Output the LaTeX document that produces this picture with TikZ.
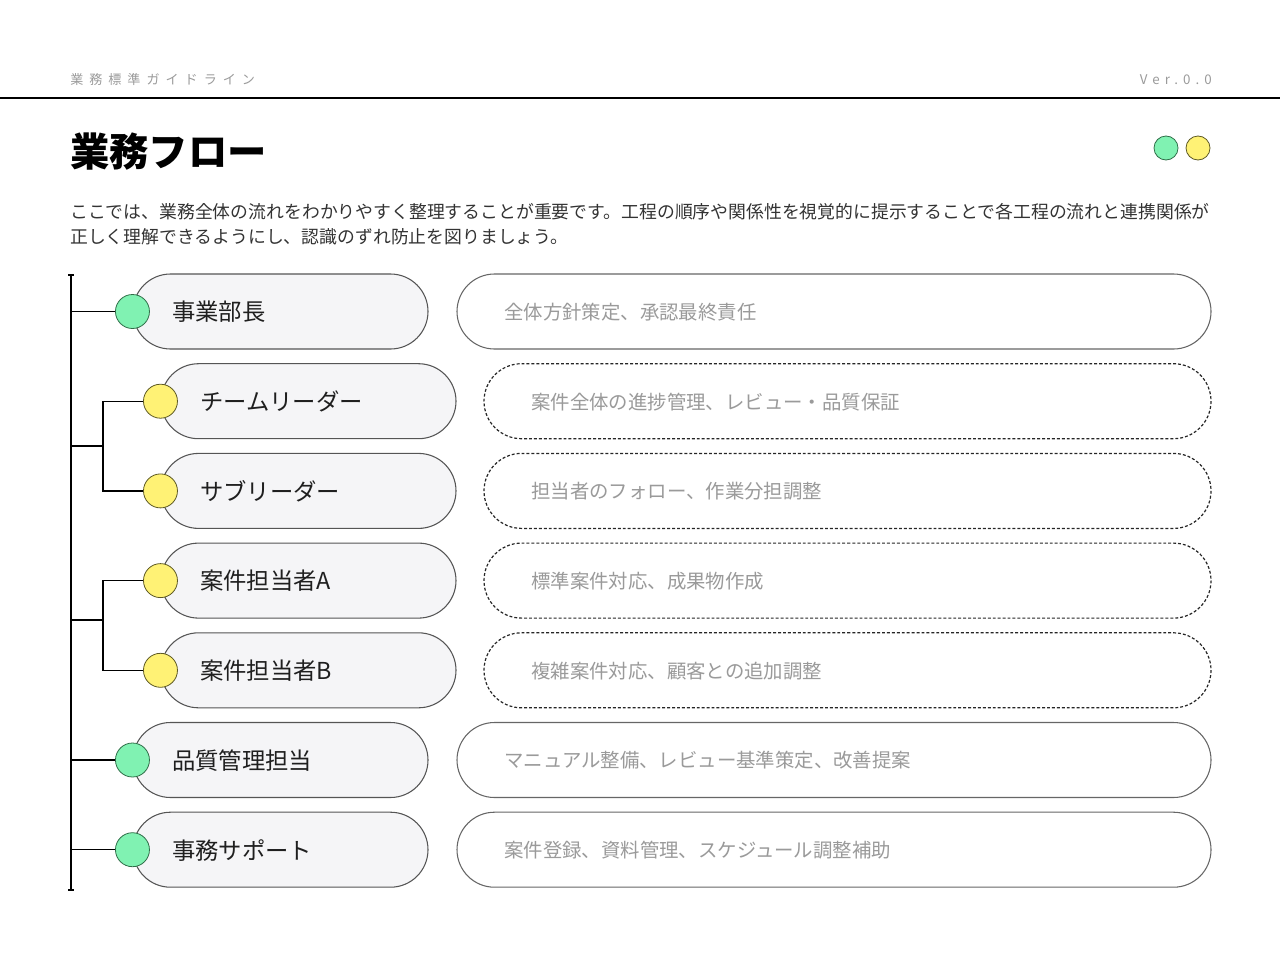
\documentclass[tikz,border=0pt]{standalone}
\usepackage{fontspec}
\setmainfont{Noto Sans CJK JP}
\usetikzlibrary{shapes.misc}
\definecolor{mint}{HTML}{80F2B2}
\definecolor{mintdark}{HTML}{2F6E48}
\definecolor{lemon}{HTML}{FFF275}
\definecolor{lemondark}{HTML}{5E5A24}
\definecolor{pillfill}{HTML}{F5F5F7}
\definecolor{pillline}{HTML}{555555}
\definecolor{softgray}{HTML}{9A9A9A}
\definecolor{bodytext}{HTML}{333333}
\tikzset{
  leftpill/.style={rounded rectangle, draw=pillline, fill=pillfill, line width=0.8pt,
    minimum width=221.25pt, minimum height=56.25pt, inner sep=0pt},
  solidpill/.style={rounded rectangle, draw=pillline!90, fill=white, line width=0.8pt,
    minimum width=565.5pt, minimum height=56.25pt, inner sep=0pt},
  dashpill/.style={rounded rectangle, draw=black!85, fill=white, line width=0.9pt,
    dash pattern=on 2.2pt off 1.5pt,
    minimum width=545.25pt, minimum height=56.25pt, inner sep=0pt},
  dotgreen/.style={circle, draw=mintdark, fill=mint, line width=0.6pt, minimum size=25.5pt, inner sep=0pt},
  dotyellow/.style={circle, draw=lemondark, fill=lemon, line width=0.6pt, minimum size=25.5pt, inner sep=0pt},
  role/.style={anchor=west, inner sep=0pt, text=black!88, font=\fontsize{17.5}{20}\selectfont},
  duty/.style={anchor=west, inner sep=0pt, text=softgray, font=\fontsize{14.55}{17}\selectfont},
  branch/.style={draw=black, line width=1pt},
}
\begin{document}
\begin{tikzpicture}[x=0.75pt,y=-0.75pt]
\useasboundingbox (0,0) rectangle (1280,960);
% header
\node[anchor=west, inner sep=0pt, text=softgray, font=\fontsize{9.8}{12}\selectfont\addfontfeature{LetterSpace=46}] (hdr) at (70,80) {業務標準ガイドライン};
\node[anchor=east, inner sep=0pt, text=softgray, font=\fontsize{10}{12}\selectfont\addfontfeature{LetterSpace=38}] (ver) at (1212,80) {Ver.0.0};
\coordinate (hl) at (0,98);
\coordinate (hr) at (1280,98);
\draw[line width=1pt] (hl) -- (hr);
% title
\node[anchor=west, inner sep=0pt, font=\fontsize{29.5}{34}\selectfont\bfseries] (title) at (70,152) {業務フロー};
\node[dotgreen, minimum size=18pt] (g) at (1166,148) {};
\node[dotyellow, minimum size=18pt] (y) at (1198,148) {};
% paragraph
\node[anchor=west, inner sep=0pt, text=bodytext, font=\fontsize{13.38}{16}\selectfont] (p1) at (70,212) {ここでは、業務全体の流れをわかりやすく整理することが重要です。工程の順序や関係性を視覚的に提示することで各工程の流れと連携関係が};
\node[anchor=west, inner sep=0pt, text=bodytext, font=\fontsize{13.38}{16}\selectfont] (p2) at (70,237) {正しく理解できるようにし、認識のずれ防止を図りましょう。};

% rows
\node[leftpill] (l0) at (280.5,311.5) {};
\node[leftpill] (l1) at (308.5,401.2) {};
\node[leftpill] (l2) at (308.5,490.9) {};
\node[leftpill] (l3) at (308.5,580.6) {};
\node[leftpill] (l4) at (308.5,670.3) {};
\node[leftpill] (l5) at (280.5,760.0) {};
\node[leftpill] (l6) at (280.5,849.7) {};

\node[solidpill] (r0) at (834,311.5) {};
\node[dashpill] (r1) at (847.5,401.2) {};
\node[dashpill] (r2) at (847.5,490.9) {};
\node[dashpill] (r3) at (847.5,580.6) {};
\node[dashpill] (r4) at (847.5,670.3) {};
\node[solidpill] (r5) at (834,760.0) {};
\node[solidpill] (r6) at (834,849.7) {};

\node[dotgreen] (c0) at (l0.west) {};
\node[dotyellow] (c1) at (l1.west) {};
\node[dotyellow] (c2) at (l2.west) {};
\node[dotyellow] (c3) at (l3.west) {};
\node[dotyellow] (c4) at (l4.west) {};
\node[dotgreen] (c5) at (l5.west) {};
\node[dotgreen] (c6) at (l6.west) {};

\node[role] (t0) at (172,312) {事業部長};
\node[role] (t1) at (200,401.7) {チームリーダー};
\node[role] (t2) at (200,491.4) {サブリーダー};
\node[role] (t3) at (200,581.1) {案件担当者A};
\node[role] (t4) at (200,670.8) {案件担当者B};
\node[role] (t5) at (172,760.5) {品質管理担当};
\node[role] (t6) at (172,850.2) {事務サポート};

\node[duty] (d0) at (504,312) {全体方針策定、承認最終責任};
\node[duty] (d1) at (531,401.7) {案件全体の進捗管理、レビュー・品質保証};
\node[duty] (d2) at (531,491.4) {担当者のフォロー、作業分担調整};
\node[duty] (d3) at (531,581.1) {標準案件対応、成果物作成};
\node[duty] (d4) at (531,670.8) {複雑案件対応、顧客との追加調整};
\node[duty] (d5) at (504,760.5) {マニュアル整備、レビュー基準策定、改善提案};
\node[duty] (d6) at (504,850.2) {案件登録、資料管理、スケジュール調整補助};

% tree
\coordinate (top) at (71,275);
\coordinate (bot) at (71,890);
\coordinate (ga) at (103,446);
\coordinate (gb) at (103,620);
\draw[line width=1.6pt] (top) -- (bot);
\draw[line width=1.2pt] (top) ++(-3,0) -- ++(6,0);
\draw[line width=1.2pt] (bot) ++(-3,0) -- ++(6,0);
\draw[branch] (c0.west) -- (c0.west -| top);
\draw[branch] (c5.west) -- (c5.west -| top);
\draw[branch] (c6.west) -- (c6.west -| top);
\draw[branch] (ga -| top) -- (ga);
\draw[branch] (gb -| top) -- (gb);
\draw[branch] (c1.west) -| (ga) |- (c2.west);
\draw[branch] (c3.west) -| (gb) |- (c4.west);
\end{tikzpicture}
\end{document}
